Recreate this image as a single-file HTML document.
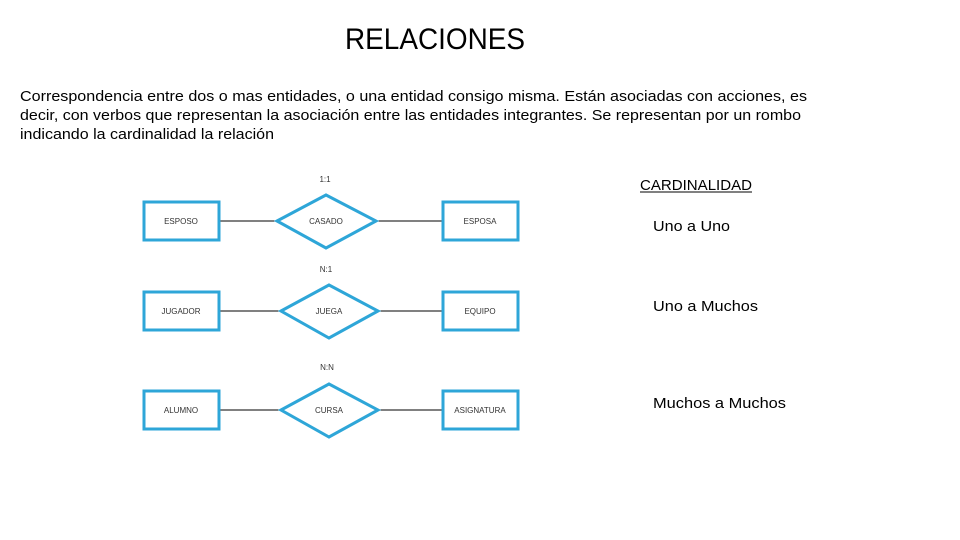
<!DOCTYPE html>
<html><head><meta charset="utf-8"><style>body{margin:0;background:#fff}svg{display:block}</style></head>
<body>
<svg width="960" height="540" viewBox="0 0 960 540" xmlns="http://www.w3.org/2000/svg" font-family="Liberation Sans, sans-serif">
<text x="345" y="49" font-size="30" textLength="180" lengthAdjust="spacingAndGlyphs" fill="#000">RELACIONES</text>
<g font-size="15" fill="#000">
<text x="20" y="101" textLength="787" lengthAdjust="spacingAndGlyphs">Correspondencia  entre dos o mas entidades, o una entidad consigo misma. Están asociadas con acciones, es</text>
<text x="20" y="120" textLength="781" lengthAdjust="spacingAndGlyphs">decir, con verbos que representan la asociación entre las entidades integrantes. Se representan por un rombo</text>
<text x="20" y="139" textLength="254" lengthAdjust="spacingAndGlyphs">indicando la cardinalidad la relación</text>
</g>
<g stroke="#000" stroke-width="1">
<line x1="220" y1="221" x2="277" y2="221"/><line x1="376" y1="221" x2="442" y2="221"/>
<line x1="220" y1="311" x2="281" y2="311"/><line x1="378" y1="311" x2="442" y2="311"/>
<line x1="220" y1="410" x2="281" y2="410"/><line x1="378" y1="410" x2="442" y2="410"/>
</g>
<g fill="#fff" stroke="#2ea6d8" stroke-width="3">
<rect x="144" y="202" width="75" height="38"/><rect x="443" y="202" width="75" height="38"/>
<rect x="144" y="292" width="75" height="38"/><rect x="443" y="292" width="75" height="38"/>
<rect x="144" y="391" width="75" height="38"/><rect x="443" y="391" width="75" height="38"/>
<polygon points="277,221 326,195 376,221 326,248"/>
<polygon points="281,311 329,285 378,311 329,338"/>
<polygon points="281,410 329,384 378,410 329,437"/>
</g>
<g font-size="8" fill="#333" text-anchor="middle">
<text x="181" y="224">ESPOSO</text><text x="326" y="224">CASADO</text><text x="480" y="224">ESPOSA</text>
<text x="181" y="314">JUGADOR</text><text x="329" y="314">JUEGA</text><text x="480" y="314">EQUIPO</text>
<text x="181" y="413">ALUMNO</text><text x="329" y="413">CURSA</text><text x="480" y="413">ASIGNATURA</text>
<text x="325" y="182">1:1</text><text x="326" y="272">N:1</text><text x="327" y="370">N:N</text>
</g>
<g font-size="15" fill="#000">
<text x="640" y="190" textLength="112" lengthAdjust="spacingAndGlyphs">CARDINALIDAD</text>
<line x1="640" y1="192" x2="752" y2="192" stroke="#000" stroke-width="1"/>
<text x="653" y="231" textLength="77" lengthAdjust="spacingAndGlyphs">Uno a Uno</text>
<text x="653" y="311" textLength="105" lengthAdjust="spacingAndGlyphs">Uno a Muchos</text>
<text x="653" y="408" textLength="133" lengthAdjust="spacingAndGlyphs">Muchos a Muchos</text>
</g>
</svg>
</body></html>
